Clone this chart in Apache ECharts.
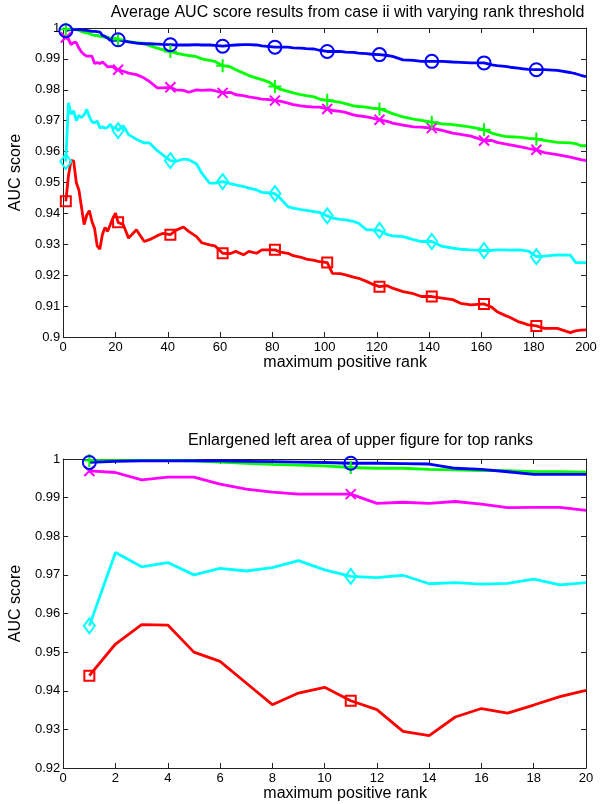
<!DOCTYPE html>
<html><head><meta charset="utf-8">
<script src="https://cdn.jsdelivr.net/npm/echarts@6/dist/echarts.min.js"></script>
<style>html,body{margin:0;padding:0;background:#fff}#c{width:600px;height:804px}</style>
</head><body><div id="c"></div>
<script>
// maximum positive rank (x) at which values were read
const rankX = [1,2,3,4,5,6,7,8,9,10,11,12,13,14,15,16,17,18,19,20,
  21,23,25,28,31,33,36,38,41,43,
  46,48,51,53,56,58,61,64,66,69,
  71,74,76,79,81,83,86,88,91,93,
  96,98,101,103,106,108,111,113,116,118,
  121,124,126,130,134,137,141,145,149,152,
  156,161,164,166,169,171,174,176,178,181,
  184,189,194,196,198,200];

const blueAUC = [0.9991,0.9994,0.9995,0.9995,0.9995,0.9995,0.9994,0.9993,0.9992,0.9991,0.9989,0.9989,0.9988,0.9987,0.9976,0.9973,0.9967,0.9960,0.9960,0.9960,
  0.9962,0.9958,0.9955,0.9951,0.9949,0.9949,0.9948,0.9947,0.9946,0.9945,
  0.9945,0.9945,0.9946,0.9945,0.9945,0.9944,0.9941,0.9944,0.9945,0.9946,
  0.9946,0.9945,0.9942,0.9940,0.9938,0.9938,0.9938,0.9936,0.9935,0.9933,
  0.9932,0.9928,0.9924,0.9924,0.9924,0.9922,0.9921,0.9919,0.9917,0.9915,
  0.9914,0.9911,0.9908,0.9897,0.9895,0.9892,0.9892,0.9892,0.9890,0.9889,
  0.9887,0.9887,0.9881,0.9878,0.9876,0.9873,0.9870,0.9868,0.9866,0.9865,
  0.9865,0.9863,0.9856,0.9852,0.9847,0.9843];

const greenAUC = [0.9996,0.9996,0.9996,0.9996,0.9995,0.9992,0.9989,0.9986,0.9984,0.9982,0.9978,0.9976,0.9976,0.9973,0.9972,0.9970,0.9970,0.9967,0.9967,0.9966,
  0.9963,0.9959,0.9956,0.9953,0.9950,0.9943,0.9935,0.9930,0.9924,0.9919,
  0.9914,0.9911,0.9907,0.9900,0.9895,0.9892,0.9878,0.9874,0.9865,0.9854,
  0.9846,0.9838,0.9833,0.9824,0.9811,0.9802,0.9795,0.9790,0.9784,0.9781,
  0.9777,0.9770,0.9766,0.9763,0.9759,0.9755,0.9748,0.9746,0.9744,0.9741,
  0.9738,0.9730,0.9723,0.9712,0.9705,0.9701,0.9695,0.9690,0.9687,0.9684,
  0.9679,0.9671,0.9660,0.9655,0.9649,0.9648,0.9647,0.9645,0.9643,0.9641,
  0.9636,0.9630,0.9628,0.9626,0.9619,0.9619];

const magentaAUC = [0.9969,0.9965,0.9946,0.9953,0.9953,0.9935,0.9922,0.9914,0.9909,0.9909,0.9909,0.9885,0.9888,0.9885,0.9890,0.9883,0.9874,0.9875,0.9875,0.9867,
  0.9865,0.9860,0.9854,0.9849,0.9838,0.9827,0.9806,0.9806,0.9808,0.9800,
  0.9798,0.9792,0.9800,0.9798,0.9800,0.9797,0.9790,0.9792,0.9784,0.9781,
  0.9777,0.9773,0.9770,0.9768,0.9765,0.9763,0.9757,0.9752,0.9748,0.9746,
  0.9744,0.9744,0.9738,0.9733,0.9730,0.9727,0.9719,0.9716,0.9712,0.9709,
  0.9703,0.9698,0.9692,0.9686,0.9680,0.9679,0.9676,0.9669,0.9660,0.9656,
  0.9650,0.9636,0.9636,0.9630,0.9625,0.9622,0.9617,0.9614,0.9610,0.9606,
  0.9597,0.9590,0.9582,0.9578,0.9574,0.9571];

const cyanAUC = [0.9568,0.9758,0.9721,0.9732,0.9700,0.9717,0.9710,0.9719,0.9737,0.9713,0.9696,0.9693,0.9699,0.9677,0.9680,0.9676,0.9678,0.9689,0.9674,0.9680,
  0.9668,0.9684,0.9655,0.9640,0.9628,0.9628,0.9603,0.9590,0.9571,0.9568,
  0.9576,0.9574,0.9560,0.9530,0.9498,0.9498,0.9503,0.9496,0.9492,0.9487,
  0.9482,0.9476,0.9468,0.9466,0.9464,0.9449,0.9422,0.9417,0.9412,0.9410,
  0.9406,0.9403,0.9392,0.9385,0.9381,0.9379,0.9374,0.9368,0.9347,0.9347,
  0.9345,0.9331,0.9327,0.9325,0.9315,0.9309,0.9309,0.9293,0.9288,0.9284,
  0.9282,0.9280,0.9280,0.9282,0.9282,0.9281,0.9282,0.9280,0.9278,0.9260,
  0.9262,0.9266,0.9265,0.9241,0.9241,0.9241];

const redAUC = [0.9439,0.9521,0.9571,0.9570,0.9500,0.9476,0.9420,0.9364,0.9394,0.9409,0.9374,0.9351,0.9295,0.9284,0.9332,0.9354,0.9342,0.9363,0.9385,0.9401,
  0.9371,0.9363,0.9320,0.9347,0.9309,0.9315,0.9328,0.9335,0.9331,0.9345,
  0.9356,0.9342,0.9325,0.9305,0.9298,0.9295,0.9271,0.9270,0.9277,0.9266,
  0.9277,0.9271,0.9282,0.9282,0.9282,0.9275,0.9271,0.9263,0.9258,0.9252,
  0.9248,0.9244,0.9241,0.9206,0.9205,0.9201,0.9194,0.9190,0.9180,0.9172,
  0.9163,0.9166,0.9158,0.9147,0.9140,0.9131,0.9131,0.9126,0.9121,0.9109,
  0.9104,0.9107,0.9096,0.9082,0.9070,0.9063,0.9050,0.9045,0.9039,0.9036,
  0.9028,0.9028,0.9014,0.9020,0.9022,0.9023];

const topMarkerX = [1,21,41,61,81,101,121,141,161,181];
const bottomMarkerX = [1,11];
const bottomCount = 20;

const topTitle = 'Average AUC score results from case ii with varying rank threshold';
const bottomTitle = 'Enlargened left area of upper figure for top ranks';
const xName = 'maximum positive rank';
const yName = 'AUC score';

const seriesDefs = [
  {name:'red', color:'#ff0000', data:redAUC, symbol:'rect', size:10},
  {name:'cyan', color:'#00ffff', data:cyanAUC, symbol:'diamond', size:[11,15]},
  {name:'magenta', color:'#ff00ff', data:magentaAUC, symbol:'path://M0,0L10,10M10,0L0,10', size:10},
  {name:'green', color:'#00ff00', data:greenAUC, symbol:'path://M0,6L12,6M6,0L6,12', size:13},
  {name:'blue', color:'#0000ff', data:blueAUC, symbol:'circle', size:13}
];

const FONT = 'Liberation Sans, Arial, Helvetica, sans-serif';
const axisCol = '#222';

function pairs(vals, n){ const out=[]; for(let i=0;i<n;i++) out.push([rankX[i], vals[i]]); return out; }
function pick(vals, xs){ return xs.map(x => [x, vals[rankX.indexOf(x)]]); }

function xAx(grid, pos, max, interval, withLabels){
  return {type:'value', gridIndex:grid, position:pos, min:0, max:max, interval:interval,
    axisLine:{show:true, onZero:false, lineStyle:{color:axisCol, width:1}},
    axisTick:{show:true, inside:true, length:5, lineStyle:{color:axisCol}},
    axisLabel:{show:withLabels, color:'#000', fontSize:13, fontFamily:FONT, margin:4},
    splitLine:{show:false},
    name: withLabels ? xName : '', nameLocation:'middle', nameGap:17,
    nameTextStyle:{color:'#000', fontSize:16, fontFamily:FONT, padding:[0,0,0,41]}};
}
function yAx(grid, pos, min, withLabels){
  return {type:'value', gridIndex:grid, position:pos, min:min, max:1, interval:0.01,
    axisLine:{show:true, onZero:false, lineStyle:{color:axisCol, width:1}},
    axisTick:{show:true, inside:true, length:5, lineStyle:{color:axisCol}},
    axisLabel:{show:withLabels, color:'#000', fontSize:13, fontFamily:FONT, margin:3},
    splitLine:{show:false},
    name: withLabels ? yName : '', nameLocation:'middle', nameGap:34,
    nameTextStyle:{color:'#000', fontSize:16, fontFamily:FONT, padding:[0,0,0,20]}};
}

const series = [];
seriesDefs.forEach(d => {
  series.push({type:'line', xAxisIndex:0, yAxisIndex:0, data:pairs(d.data, rankX.length),
    showSymbol:false, lineStyle:{color:d.color, width:2.8}, itemStyle:{color:d.color}, z:2});
  series.push({type:'line', xAxisIndex:2, yAxisIndex:2, data:pairs(d.data, bottomCount),
    showSymbol:false, lineStyle:{color:d.color, width:2.8}, itemStyle:{color:d.color}, z:2});
});
seriesDefs.forEach(d => {
  [[0, topMarkerX],[2, bottomMarkerX]].forEach(([ax, xs]) => {
    series.push({type:'scatter', xAxisIndex:ax, yAxisIndex:ax, data:pick(d.data, xs),
      symbol:d.symbol, symbolSize:d.size,
      itemStyle:{color:'transparent', borderColor:d.color, borderWidth:2, opacity:1}, z:3});
  });
});

const chart = echarts.init(document.getElementById('c'), null, {renderer:'canvas'});
chart.setOption({
  animation:false,
  backgroundColor:'#fff',
  grid:[{left:49, top:28, width:537, height:309},{left:49, top:459, width:537, height:309}],
  xAxis:[xAx(0,'bottom',200,20,true), xAx(0,'top',200,20,false), xAx(1,'bottom',20,2,true), xAx(1,'top',20,2,false)],
  yAxis:[yAx(0,'left',0.9,true), yAx(0,'right',0.9,false), yAx(1,'left',0.92,true), yAx(1,'right',0.92,false)],
  graphic:[
    {type:'text', x:347.5, y:13, style:{text:topTitle, font:'16px '+FONT, fill:'#000', textAlign:'center', textVerticalAlign:'middle'}},
    {type:'text', x:360.5, y:441, style:{text:bottomTitle, font:'16px '+FONT, fill:'#000', textAlign:'center', textVerticalAlign:'middle'}}
  ],
  series:series
});
</script></body></html>
